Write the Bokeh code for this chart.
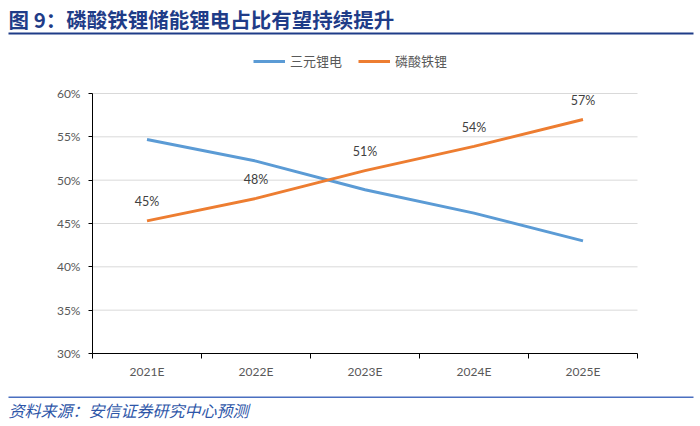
from bokeh.plotting import figure
from bokeh.models import (Range1d, FixedTicker, PrintfTickFormatter, Legend, LegendItem,
                          ColumnDataSource, Label, BoxAnnotation, LinearAxis)
from bokeh.core.properties import value
from bokeh.embed import file_html
from bokeh.resources import INLINE

# ---------------- data ----------------
title_text = "图 9：磷酸铁锂储能锂电占比有望持续提升"
source_text = "资料来源：安信证券研究中心预测"
categories = ["2021E", "2022E", "2023E", "2024E", "2025E"]
series_names = ["三元锂电", "磷酸铁锂"]
ternary = [54.7, 52.2, 48.9, 46.2, 43.0]
lfp = [45.3, 47.9, 51.1, 53.9, 57.0]
y_ticks = [30, 35, 40, 45, 50, 55, 60]

BLUE = "#5B9BD5"
ORANGE = "#ED7D31"
TITLE_BLUE = "#1F3C88"
TICK_FONT = "Lato"
CJK = "Noto Sans CJK SC"

# ---------------- layout (canvas pixels) ----------------
W, H = 696, 422
PL, PR, PT, PB = 92, 637, 93, 353   # plot area edges
n = len(categories)
ymin, ymax = min(y_ticks), max(y_ticks)
sx = (PR - PL) / n
sy = (PB - PT) / (ymax - ymin)
x_range = Range1d(-PL / sx, n + (W - PR) / sx)
y_range = Range1d(ymin - (H - PB) / sy, ymax + PT / sy)

xs = [i + 0.5 for i in range(n)]
src = ColumnDataSource(dict(x=xs, ternary=ternary, lfp=lfp,
                            lbl=[f"{round(v)}%" for v in lfp]))

p = figure(width=W, height=H, output_backend="svg", toolbar_location=None,
           x_range=x_range, y_range=y_range, min_border=0,
           x_axis_location=None, y_axis_location=None)
p.outline_line_color = None
p.grid.visible = False

# grid lines and axis lines, limited to the plot area
p.segment(x0=[0] * (len(y_ticks) - 1), y0=y_ticks[1:], x1=[n] * (len(y_ticks) - 1), y1=y_ticks[1:],
          line_color="#D9D9D9", line_width=1)
p.segment(x0=[0, 0], y0=[ymin, ymin], x1=[n, 0], y1=[ymin, ymax],
          line_color="#000000", line_width=1)

xa = LinearAxis(fixed_location=ymin)
xa.ticker = FixedTicker(ticks=xs, minor_ticks=list(range(n + 1)))
xa.major_label_overrides = {x: c for x, c in zip(xs, categories)}
xa.major_tick_line_color = None
xa.major_tick_out = 5
xa.major_tick_in = 0
xa.minor_tick_line_color = "#000000"
xa.minor_tick_out = 5
xa.minor_tick_in = 0
xa.axis_line_color = None
xa.major_label_standoff = 5
xa.major_label_text_font = TICK_FONT
xa.major_label_text_font_size = "12px"
xa.major_label_text_color = "#595959"
p.add_layout(xa, "below")

ya = LinearAxis(fixed_location=0)
ya.ticker = FixedTicker(ticks=y_ticks)
ya.formatter = PrintfTickFormatter(format="%d%%")
ya.axis_line_color = None
ya.major_tick_line_color = "#000000"
ya.major_tick_out = 4
ya.major_tick_in = 0
ya.minor_tick_line_color = None
ya.major_label_standoff = 8
ya.major_label_text_font = TICK_FONT
ya.major_label_text_font_size = "12px"
ya.major_label_text_color = "#595959"
p.add_layout(ya, "left")

r1 = p.line("x", "ternary", source=src, line_color=BLUE, line_width=3)
r2 = p.line("x", "lfp", source=src, line_color=ORANGE, line_width=3)
p.text("x", "lfp", text="lbl", source=src, y_offset=-19, text_align="center",
       text_baseline="middle", text_font=value(TICK_FONT), text_font_size="12.5px",
       text_color="#404040")

legend = Legend(items=[LegendItem(label=series_names[0], renderers=[r1]),
                       LegendItem(label=series_names[1], renderers=[r2])],
                location=(253, H - 70), orientation="horizontal",
                glyph_width=32, glyph_height=16, label_height=16, label_standoff=5,
                spacing=16, padding=0, margin=0,
                label_text_font=CJK, label_text_font_size="13px",
                label_text_color="#595959",
                border_line_color=None, background_fill_alpha=0)
p.add_layout(legend, "center")

# header
p.add_layout(Label(x=8, y=H - 18.5, x_units="screen", y_units="screen", text=title_text,
                   text_font=CJK, text_font_style="bold", text_font_size="20.5px",
                   text_color=TITLE_BLUE, text_baseline="middle", text_align="left"))
p.add_layout(BoxAnnotation(left=8, right=693, top=H - 32, bottom=H - 34,
                           left_units="screen", right_units="screen",
                           top_units="screen", bottom_units="screen",
                           fill_color=TITLE_BLUE, fill_alpha=1, line_color=None))
# footer
p.add_layout(BoxAnnotation(left=8, right=693, top=H - 396, bottom=H - 397.5,
                           left_units="screen", right_units="screen",
                           top_units="screen", bottom_units="screen",
                           fill_color="#4A6FC0", fill_alpha=1, line_color=None))
p.add_layout(Label(x=8, y=H - 409, x_units="screen", y_units="screen", text=source_text,
                   text_font=CJK, text_font_style="italic", text_font_size="16px",
                   text_color="#2E56A8", text_baseline="middle", text_align="left"))

open("out.html", "w").write(file_html(p, INLINE))
